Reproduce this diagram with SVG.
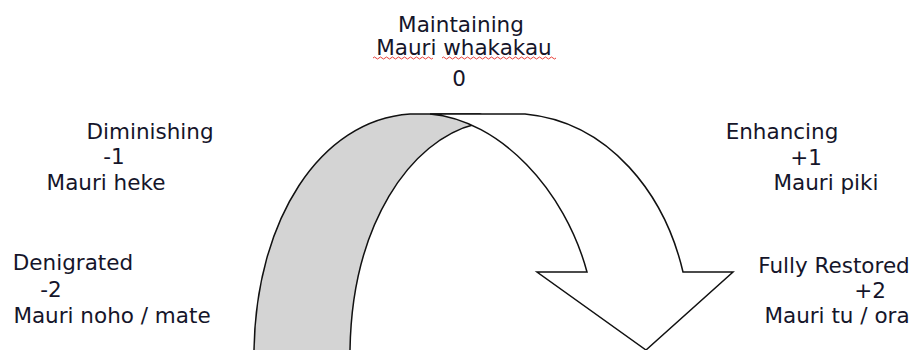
<svg xmlns="http://www.w3.org/2000/svg" width="921" height="350" viewBox="0 0 921 350">
<style>
  text { font-family: "DejaVu Sans", Verdana, sans-serif; font-size: 21.5px; fill: #15152a; text-anchor: middle; }
  .shape { stroke: #111; stroke-width: 1.5; stroke-linejoin: miter; }
</style>
<rect width="921" height="350" fill="#ffffff"/>
<g id="arrow">
  <path id="band" class="shape" fill="#d4d4d4" d="M254,352 L254,350 C256,220 320,120 410,114 L480,114 L500,122 L476,124 C410,140 352,225 350,350 L350,352 Z"/>
  <path id="head" class="shape" fill="#ffffff" d="M430,114 L525,114 C610,122 665,195 683,272 L733,272 L646,350 L537,272 L587,272 C565,190 500,120 430,114 Z"/>
</g>
<g id="maintaining">
  <text x="461" y="32">Maintaining</text>
  <text x="464" y="55">Mauri whakakau</text>
  <path d="M373,58 q1.5,-2 3,0 t3,0 t3,0 t3,0 t3,0 t3,0 t3,0 t3,0 t3,0 t3,0 t3,0 t3,0 t3,0 t3,0 t3,0 t3,0 t3,0 t3,0 t3,0 t3,0 M442,58 q1.5,-2 3,0 t3,0 t3,0 t3,0 t3,0 t3,0 t3,0 t3,0 t3,0 t3,0 t3,0 t3,0 t3,0 t3,0 t3,0 t3,0 t3,0 t3,0 t3,0 t3,0 t3,0 t3,0 t3,0 t3,0 t3,0 t3,0 t3,0 t3,0 t3,0 t3,0 t3,0 t3,0 t3,0 t3,0 t3,0 t3,0 t3,0 t3,0" fill="none" stroke="#e8403a" stroke-width="1"/>
  <text x="459" y="86">0</text>
</g>
<g id="diminishing">
  <text x="150" y="139">Diminishing</text>
  <text x="114" y="164">-1</text>
  <text x="106" y="190">Mauri heke</text>
</g>
<g id="denigrated">
  <text x="73" y="270">Denigrated</text>
  <text x="51" y="297">-2</text>
  <text x="112" y="323">Mauri noho / mate</text>
</g>
<g id="enhancing">
  <text x="782" y="139">Enhancing</text>
  <text x="806" y="165">+1</text>
  <text x="826" y="190">Mauri piki</text>
</g>
<g id="restored">
  <text x="834" y="273">Fully Restored</text>
  <text x="870" y="298">+2</text>
  <text x="837" y="323">Mauri tu / ora</text>
</g>
</svg>
